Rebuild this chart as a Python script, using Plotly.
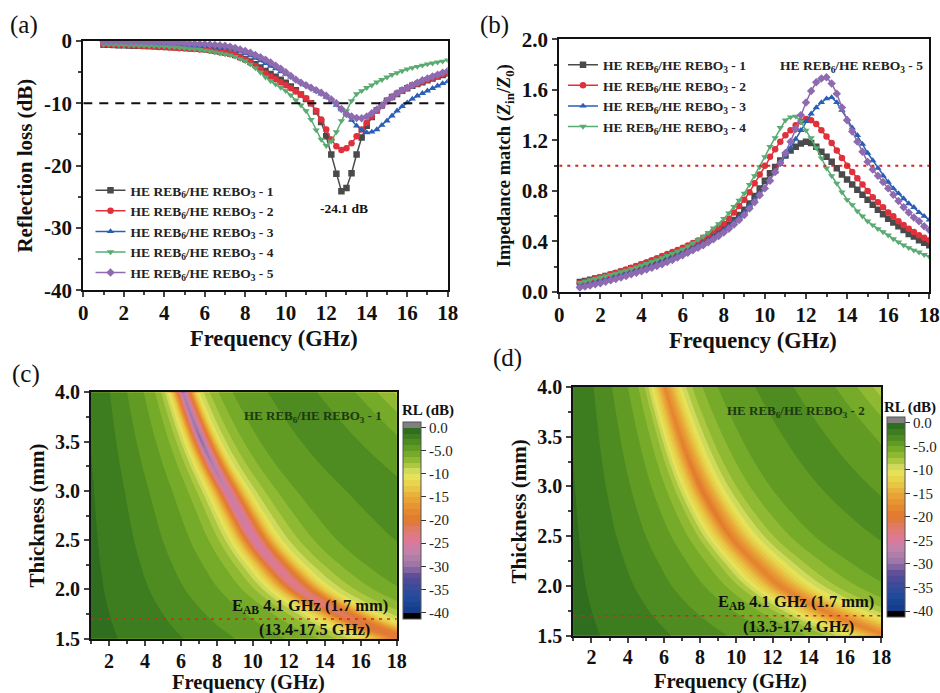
import plotly.graph_objects as go

W, H = 940, 693
FONT = "Liberation Serif"

freq_line = [1 + 0.25 * i for i in range(69)]
names = ["HE REB<sub>6</sub>/HE REBO<sub>3</sub> - %d" % i for i in range(1, 6)]
colors = ["#4a4a4a", "#e0303c", "#2a5fb4", "#5aab72", "#8e6bb0"]
symbols = ["square", "circle", "triangle-up", "triangle-down", "diamond"]

rl_1 = [-.6,-.62,-.65,-.67,-.7,-.72,-.75,-.77,-.8,-.82,-.85,-.87,-.9,-.95,-1,-1.05,-1.1,-1.15,-1.2,-1.25,-1.3,-1.42,-1.55,-1.7,-1.85,-2,-2.25,-2.55,-2.9,-3.3,-3.75,-4.25,-4.8,-5.3,-5.75,-6.2,-6.7,-7.3,-7.9,-8.6,-9.3,-10,-11.3,-13,-15.3,-18.2,-21.3,-24.1,-23.6,-21.2,-18.2,-15.5,-13.6,-12.2,-11.1,-10.3,-9.6,-9,-8.5,-8,-7.6,-7.2,-6.9,-6.6,-6.3,-6,-5.7,-5.45,-5.2]
rl_2 = [-.55,-.58,-.6,-.63,-.66,-.7,-.74,-.78,-.82,-.86,-.9,-.95,-1,-1.05,-1.1,-1.15,-1.2,-1.25,-1.3,-1.35,-1.4,-1.52,-1.65,-1.8,-1.93,-2.05,-2.3,-2.65,-3,-3.5,-4,-4.6,-5.2,-5.7,-6.15,-6.6,-7.1,-7.6,-8.1,-8.6,-9.2,-10,-11.2,-12.6,-14.2,-15.8,-16.9,-17.5,-17.2,-16.4,-15.3,-14.2,-13.1,-12.1,-11.2,-10.4,-9.7,-9,-8.4,-7.9,-7.5,-7.1,-6.8,-6.5,-6.2,-5.9,-5.6,-5.35,-5.1]
rl_3 = [-.2,-.2,-.22,-.24,-.26,-.28,-.31,-.34,-.37,-.41,-.45,-.5,-.55,-.6,-.65,-.7,-.74,-.78,-.8,-.8,-.8,-.87,-.93,-.99,-1.05,-1.2,-1.45,-1.7,-2,-2.35,-2.75,-3.15,-3.6,-4.05,-4.45,-4.9,-5.3,-5.75,-6.2,-6.65,-7.1,-7.5,-8,-8.5,-9,-9.6,-10.3,-11,-11.8,-12.7,-13.6,-14.3,-14.7,-14.6,-14.2,-13.5,-12.8,-12,-11.2,-10.5,-9.9,-9.3,-8.8,-8.4,-8,-7.6,-7.2,-6.8,-6.5]
rl_4 = [-.55,-.57,-.6,-.62,-.65,-.67,-.7,-.72,-.75,-.78,-.82,-.86,-.9,-.95,-1,-1.07,-1.15,-1.25,-1.32,-1.4,-1.5,-1.63,-1.78,-1.95,-2.1,-2.25,-2.5,-2.85,-3.2,-3.75,-4.35,-5.05,-5.8,-6.4,-6.95,-7.45,-8,-8.7,-9.5,-10.3,-11.2,-12.6,-14.3,-15.8,-16.8,-16.1,-14.6,-12.8,-11.2,-9.6,-8.5,-8,-7.5,-7.1,-6.6,-6.2,-5.8,-5.4,-5.1,-4.8,-4.5,-4.3,-4.1,-3.9,-3.7,-3.55,-3.4,-3.25,-3.05]
rl_5 = [-.08,-.08,-.09,-.09,-.1,-.11,-.12,-.13,-.14,-.16,-.18,-.2,-.22,-.25,-.28,-.32,-.36,-.4,-.44,-.47,-.5,-.56,-.62,-.68,-.75,-.9,-1.1,-1.35,-1.6,-1.9,-2.25,-2.6,-3,-3.45,-3.95,-4.45,-5,-5.6,-6.2,-6.7,-7.1,-7.5,-7.9,-8.3,-8.8,-9.4,-10,-10.9,-11.7,-12.1,-12.35,-12.4,-12.1,-11.6,-11,-10.3,-9.6,-9,-8.4,-7.9,-7.5,-7.1,-6.7,-6.3,-6,-5.7,-5.4,-5.1,-4.8]

zm_1 = [.08,.088,.097,.106,.115,.126,.137,.148,.16,.173,.187,.2,.215,.228,.242,.256,.27,.284,.299,.314,.33,.349,.368,.388,.41,.43,.453,.476,.5,.53,.57,.61,.65,.7,.76,.82,.88,.94,.99,1.04,1.08,1.12,1.15,1.175,1.19,1.18,1.15,1.11,1.07,1.03,.98,.93,.89,.85,.81,.77,.73,.69,.65,.615,.58,.55,.52,.49,.46,.44,.41,.39,.37]
zm_2 = [.07,.08,.092,.103,.115,.127,.14,.152,.165,.178,.192,.206,.22,.236,.252,.268,.285,.301,.317,.333,.35,.368,.388,.408,.43,.455,.482,.51,.54,.58,.63,.68,.73,.79,.86,.93,1,1.07,1.13,1.19,1.24,1.28,1.32,1.35,1.37,1.36,1.33,1.28,1.23,1.18,1.12,1.06,1,.95,.9,.85,.8,.75,.71,.67,.63,.6,.56,.53,.5,.475,.45,.43,.41]
zm_3 = [.05,.06,.07,.08,.09,.1,.112,.124,.135,.147,.16,.172,.185,.198,.212,.226,.24,.257,.274,.292,.31,.33,.35,.37,.39,.413,.438,.463,.49,.52,.555,.59,.63,.68,.73,.78,.83,.89,.95,1.01,1.08,1.14,1.21,1.28,1.35,1.41,1.46,1.5,1.53,1.54,1.5,1.44,1.37,1.3,1.24,1.17,1.1,1.04,.98,.92,.87,.82,.78,.74,.7,.67,.63,.6,.57]
zm_4 = [.075,.085,.095,.105,.115,.126,.137,.148,.16,.172,.185,.197,.21,.225,.24,.255,.27,.287,.304,.322,.34,.363,.387,.413,.44,.47,.505,.54,.58,.625,.675,.725,.78,.85,.92,.99,1.07,1.15,1.22,1.3,1.36,1.385,1.39,1.35,1.28,1.22,1.14,1.06,.98,.92,.86,.79,.73,.69,.64,.6,.56,.53,.5,.475,.45,.42,.395,.37,.35,.33,.315,.295,.28]
zm_5 = [.035,.043,.052,.061,.07,.081,.092,.103,.115,.127,.14,.152,.165,.178,.192,.206,.22,.237,.254,.272,.29,.31,.33,.35,.37,.393,.418,.443,.47,.5,.535,.57,.61,.66,.71,.765,.82,.88,.95,1.02,1.1,1.19,1.29,1.4,1.5,1.59,1.66,1.69,1.7,1.65,1.57,1.46,1.36,1.27,1.19,1.11,1.03,.97,.92,.87,.82,.77,.72,.67,.63,.59,.56,.52,.49]

# RL maps: sampled along the absorption ridge, one ridge frequency per thickness
thick = [1.5, 1.625, 1.75, 2, 2.25, 2.5, 2.75, 3, 3.25, 3.5, 3.75, 4]
ridge_c = [18.3, 16.4, 14.9, 12.6, 11.2, 10.1, 9.3, 8.55, 7.8, 7.15, 6.6, 6.1]
ridge_d = [18.3, 16.4, 14.8, 12.4, 10.9, 9.65, 8.75, 8.0, 7.4, 6.9, 6.45, 6.05]
rel_freq = [.04,.08,.12,.16,.2,.25,.3,.35,.4,.45,.5,.55,.6,.65,.7,.75,.8,.84,.88,
            .91,.94,.97,1,1.03,1.06,1.09,1.12,
            1.15,1.2,1.25,1.3,1.4,1.5,1.7,1.9,2.1,2.3,2.5,2.7,2.9,3.0]

c_left = [-.8,-1.0,-1.15,-1.4,-1.65,-1.9,-2.25,-2.6,-3.0,-3.4,-3.8,-4.2,-4.6,-5.05,-5.55,-6.3,-7.4,-8.8,-11]
c_right = [-10.1,-8.4,-7.4,-6.6,-5.4,-4.7,-3.9,-3.5,-3.5,-3.9,-4.6,-5.7,-7.3,-8.2]
c_core = [
    [-12.5,-15,-18,-20,-19,-16.5,-13.5,-11.2],
    [-12.7,-15.7,-19,-21,-19.5,-17,-13.8,-11.4],
    [-13,-16,-20,-22,-20.5,-17.5,-14,-11.5],
    [-13.5,-17,-21.5,-24,-22,-18.5,-14.5,-11.8],
    [-13.5,-17,-22,-25,-23,-19,-14.8,-11.9],
    [-13.5,-17.3,-22.5,-26,-23.5,-19.2,-15,-12],
    [-13.5,-17.4,-22.8,-26.5,-23.8,-19.4,-15,-12],
    [-13.5,-17.5,-23,-27,-24,-19.5,-15,-12],
    [-13.7,-17.8,-24,-28.5,-25,-20,-15.5,-12],
    [-13.8,-18,-24.5,-30.5,-25.5,-20.5,-15.5,-12.1],
    [-13.6,-17.8,-24,-29.5,-25.5,-20.5,-15.5,-12],
    [-13.5,-17.5,-23,-28.5,-25,-20,-15.5,-12],
]
d_left = [-.8,-1.0,-1.15,-1.4,-1.6,-1.9,-2.2,-2.5,-2.85,-3.2,-3.6,-4.0,-4.35,-4.85,-5.4,-6.1,-7.0,-8.2,-10.3]
d_right = [-10.2,-8.6,-7.5,-6.8,-5.6,-4.9,-4.0,-3.6,-3.6,-4.0,-4.7,-5.8,-7.5,-8.4]
d_core = [
    [-11.9,-13.6,-15.8,-18.2,-16.6,-14.8,-13,-11.4],
    [-12,-13.8,-16.2,-18.8,-17,-15,-13.2,-11.5],
    [-12,-13.8,-16.2,-18.8,-17,-15,-13.2,-11.5],
    [-12,-13.8,-16.2,-18.8,-17,-15,-13.2,-11.5],
    [-12,-13.8,-16.2,-18.8,-17,-15,-13.2,-11.5],
    [-12,-13.9,-16.4,-19.2,-17.2,-15.2,-13.3,-11.5],
    [-12.1,-14,-16.6,-20,-17.5,-15.4,-13.4,-11.5],
    [-12.1,-14,-16.6,-20,-17.5,-15.4,-13.4,-11.5],
    [-12,-13.9,-16.4,-19.4,-17.2,-15.2,-13.3,-11.5],
    [-12,-13.8,-16.2,-18.8,-17,-15,-13.2,-11.5],
    [-11.9,-13.7,-16,-18.4,-16.8,-14.9,-13.1,-11.5],
    [-11.9,-13.6,-15.8,-18.2,-16.6,-14.8,-13,-11.4],
]
z_c = [c_left + row + c_right for row in c_core]
z_d = [d_left + row + d_right for row in d_core]

cs_val = [-41.25, -40.01, -40, -37.5, -35, -32.5, -30, -27.5, -25, -22.5, -20, -17.5, -15, -12.5, -10, -8.75, -7.5, -5, -2.5, 0, 0.01, 1.25]
cs_col = ["#000000", "#000000", "#163c8c", "#1f4a9c", "#3a4a98", "#5a4a96", "#9a74a8", "#b984aa", "#dc789e", "#e07c72",
          "#e0782e", "#e68c30", "#e8a838", "#e8cc48", "#e6e65a", "#c8d65c", "#a4c43a", "#72a828", "#4c8a20", "#2f6e1e", "#808080", "#808080"]
colorscale = [[(v - cs_val[0]) / (cs_val[-1] - cs_val[0]), c] for v, c in zip(cs_val, cs_col)]

yticks_a = [0, -10, -20, -30, -40]
ytext_a = ["0", "-10", "-20", "-30", "-40"]

def dx(a, b): return [a / W, b / W]
def dy(t, b): return [1 - b / H, 1 - t / H]

fig = go.Figure()

for i, (ys, zs) in enumerate(zip([rl_1, rl_2, rl_3, rl_4, rl_5], [zm_1, zm_2, zm_3, zm_4, zm_5])):
    fig.add_trace(go.Scatter(x=freq_line, y=ys, mode="lines+markers", name=names[i], xaxis="x", yaxis="y", legend="legend",
                             line=dict(color=colors[i], width=1.5),
                             marker=dict(symbol=symbols[i], size=6.5, color=colors[i])))
    fig.add_trace(go.Scatter(x=freq_line, y=zs, mode="lines+markers", name=names[i], xaxis="x2", yaxis="y2", legend="legend2",
                             showlegend=i < 4, line=dict(color=colors[i], width=1.5),
                             marker=dict(symbol=symbols[i], size=6.5, color=colors[i])))

fig.add_trace(go.Scatter(x=[0, 18], y=[-10, -10], mode="lines", showlegend=False, xaxis="x", yaxis="y",
                         line=dict(color="#111111", width=2, dash="9px,7px")))
fig.add_trace(go.Scatter(x=[0, 18], y=[1, 1], mode="lines", showlegend=False, xaxis="x2", yaxis="y2",
                         line=dict(color="#e02020", width=2, dash="3px,5px")))

hidden = dict(showgrid=False, minorgridcount=0, startline=False, endline=False, showticklabels="none", tickmode="array", tickvals=[], smoothing=1)
cbars = [(403.3, 421.5, 618.5), (887.3, 416.8, 616.9)]
for z, ridge, xa, ya, cb, cid in zip([z_c, z_d], [ridge_c, ridge_d], ["x3", "x4"], ["y3", "y4"], cbars, ["car3", "car4"]):
    fig.add_trace(go.Carpet(carpet=cid, a=rel_freq, b=thick, xaxis=xa, yaxis=ya,
                            x=[[r * f0 for r in rel_freq] for f0 in ridge],
                            y=[[t for r in rel_freq] for t in thick],
                            aaxis=hidden, baxis=hidden))
    fig.add_trace(go.Contourcarpet(carpet=cid, a=rel_freq, b=thick, z=z, xaxis=xa, yaxis=ya, zmin=cs_val[0], zmax=cs_val[-1],
                             colorscale=colorscale, autocontour=False,
                             contours=dict(start=-40, end=0, size=1.25, coloring="fill", showlines=False),
                             line=dict(width=0, smoothing=1),
                             colorbar=dict(x=cb[0] / W, xanchor="left", thickness=17.5, xpad=0, ypad=0, outlinewidth=1, outlinecolor="#555555",
                                           y=1 - cb[2] / H, yanchor="bottom", lenmode="pixels", len=cb[2] - cb[1],
                                           tickmode="array", tickvals=[0, -5, -10, -15, -20, -25, -30, -35, -40],
                                           ticktext=["0.0", "-5.0", "-10", "-15", "-20", "-25", "-30", "-35", "-40"],
                                           ticks="outside", ticklen=5, tickwidth=1, tickcolor="#333333",
                                           tickfont=dict(family=FONT, size=15, color="#222222"))))
    fig.add_trace(go.Scatter(x=[1, 18], y=[1.7, 1.7], mode="lines", showlegend=False, xaxis=xa, yaxis=ya,
                             line=dict(color="#e02020", width=1.5, dash="3px,5px")))

def xaxis(dom, rng, anchor, size, standoff):
    return dict(domain=dom, range=rng, anchor=anchor, dtick=2, tick0=0, ticks="outside", ticklen=5, tickwidth=1.5, ticklabelstandoff=standoff,
                minor=dict(dtick=1, ticks="outside", ticklen=3, tickwidth=1.5, tick0=0), showline=True, mirror=True, linewidth=2, linecolor="#111111",
                showgrid=False, zeroline=False, tickfont=dict(family=FONT, size=size, color="#111111", weight=700))

def yaxis(dom, rng, anchor, dtick, mdt, fmt, title, size, tsize, standoff):
    return dict(domain=dom, range=rng, anchor=anchor, dtick=dtick, ticks="outside", ticklen=5, tickwidth=1.5, tickformat=fmt,
                minor=dict(dtick=mdt, ticks="outside", ticklen=3, tickwidth=1.5), showline=True, mirror=True, linewidth=2, linecolor="#111111",
                showgrid=False, zeroline=False, tickfont=dict(family=FONT, size=size, color="#111111", weight=700),
                title=dict(text=title, standoff=standoff, font=dict(family=FONT, size=tsize, color="#111111", weight=700)))

def legend(x, y):
    return dict(x=x / W, y=1 - y / H, xanchor="left", yanchor="top", bgcolor="rgba(0,0,0,0)", borderwidth=0,
                font=dict(family=FONT, size=13.5, color="#222222", weight=700), itemwidth=30, tracegroupgap=0)

ya_a = yaxis(dy(41, 290.3), [-40, 0], "x", 10, 5, "d", "Reflection loss (dB)", 21, 21, 6)
ya_a.update(tickmode="array", tickvals=yticks_a, ticktext=ytext_a)

fig.update_layout(
    width=W, height=H, margin=dict(l=0, r=0, t=0, b=0, autoexpand=False), paper_bgcolor="white", plot_bgcolor="white",
    font=dict(family=FONT),
    xaxis=xaxis(dx(83.3, 447.7), [0, 18], "y", 21, -3),
    yaxis=ya_a,
    xaxis2=xaxis(dx(559.3, 929.3), [0, 18], "y2", 21, -2),
    yaxis2=yaxis(dy(39.3, 292), [0, 2], "x2", .4, .2, ".1f", "Impedance match (<i>Z</i><sub>in</sub>/<i>Z</i><sub>0</sub>)", 21, 18.5, 6),
    xaxis3=xaxis(dx(91, 396.7), [1, 18], "y3", 20, -2),
    yaxis3=yaxis(dy(392.3, 638.7), [1.5, 4], "x3", .5, .25, ".1f", "Thickness (mm)", 20, 21, 5),
    xaxis4=xaxis(dx(573.3, 881.3), [1, 18], "y4", 20, -3),
    yaxis4=yaxis(dy(387, 635.7), [1.5, 4], "x4", .5, .25, ".1f", "Thickness (mm)", 20, 21, 5),
    legend=legend(90.5, 175),
    legend2=legend(563, 49.5),
)

def note(x, y, text, size, bold=True, color="#111111"):
    return dict(x=x / W, y=1 - y / H, xref="paper", yref="paper", text=text, showarrow=False, xanchor="center", yanchor="middle",
                font=dict(family=FONT, size=size, color=color, weight=700 if bold else 400))

fig.update_layout(annotations=[
    note(24, 25, "(a)", 25, False), note(494, 25, "(b)", 25, False), note(26, 374, "(c)", 25, False), note(507, 358, "(d)", 25, False),
    note(274, 338, "Frequency (GHz)", 22.5), note(753, 340, "Frequency (GHz)", 22.5),
    note(248, 682.5, "Frequency (GHz)", 20.5), note(730, 681, "Frequency (GHz)", 20.5),
    note(344, 208, "-24.1 dB", 13.5),
    note(851, 66, names[4], 13.5, color="#222222"),
    note(313, 416, names[0], 13, color="#1c3a10"), note(796, 411, names[1], 13, color="#1c3a10"),
    note(310, 606, "E<sub>AB</sub> 4.1 GHz (1.7 mm)", 16.5), note(314, 629, "(13.4-17.5 GHz)", 16.5),
    note(796, 602, "E<sub>AB</sub> 4.1 GHz (1.7 mm)", 16.5), note(798, 626, "(13.3-17.4 GHz)", 16.5),
    note(428, 410, "RL (dB)", 15), note(910, 407, "RL (dB)", 15),
])

fig.write_html("out.html", config={"displayModeBar": False},
               post_script="document.body.style.margin='0';document.documentElement.style.overflow='hidden';")
